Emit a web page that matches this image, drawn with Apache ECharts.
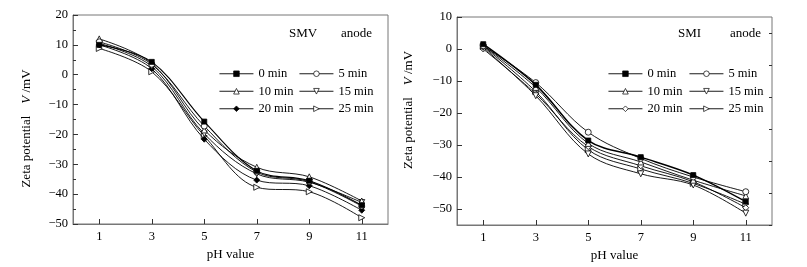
<!DOCTYPE html>
<html>
<head>
<meta charset="utf-8">
<script src="https://cdn.jsdelivr.net/npm/echarts@6/dist/echarts.min.js"></script>
<style>
  html, body { margin: 0; padding: 0; background: #fff; }
  #main { width: 807px; height: 267px; }
</style>
</head>
<body>
<div id="main"></div>
<script>
// pH values on the x axis
var phValues = [1, 3, 5, 7, 9, 11];
var timeNames = ['0 min', '5 min', '10 min', '15 min', '20 min', '25 min'];

// SMV anode, zeta potential (mV)
var smv0 = [10, 4.3, -15.7, -32.2, -35.5, -43.7];
var smv5 = [11, 3.5, -17.2, -32.6, -35.8, -44.0];
var smv10 = [12, 3.8, -18.5, -31.0, -34.2, -42.3];
var smv15 = [10.5, 2.8, -19.8, -33.2, -36.0, -42.8];
var smv20 = [10, 2.0, -21.6, -35.3, -37.2, -45.4];
var smv25 = [8.8, 1.0, -20.5, -37.7, -39.2, -47.9];

// SMI anode, zeta potential (mV)
var smi0 = [1.5, -11.2, -28.6, -33.8, -39.4, -47.7];
var smi5 = [1.0, -10.5, -26.0, -34.2, -40.0, -44.6];
var smi10 = [1.0, -12.0, -29.5, -35.3, -41.0, -45.9];
var smi15 = [0.5, -14.6, -32.8, -39.0, -42.5, -51.3];
var smi20 = [0.0, -14.0, -30.5, -36.5, -41.5, -49.6];
var smi25 = [0.8, -13.3, -31.5, -37.5, -42.0, -48.5];

var smiTicks = [-50, -40, -30, -20, -10, 0, 10];
var smiMinor = [-55, -45, -35, -25, -15, -5, 5];

var FONT = 'Liberation Serif';
var AXIS_COLOR = '#777';

// marker look per time
var marks = [
    { symbol: 'rect', rotate: 0 },
    { symbol: 'circle', rotate: 0 },
    { symbol: 'triangle', rotate: 0 },
    { symbol: 'triangle', rotate: 180 },
    { symbol: 'diamond', rotate: 0 },
    { symbol: 'triangle', rotate: -90 }
];

function pairs(vals) {
    return phValues.map(function (p, i) { return [p, vals[i]]; });
}

function makeSeries(prefix, lists, idx, fills, widths) {
    return lists.map(function (vals, i) {
        var m = marks[i];
        return {
            name: prefix + timeNames[i],
            type: 'line',
            xAxisIndex: idx,
            yAxisIndex: idx === 0 ? 0 : 1,
            data: pairs(vals),
            smooth: 0.35,
            symbol: m.symbol,
            symbolRotate: m.rotate,
            symbolSize: m.symbol === 'rect' ? 5 : 6,
            itemStyle: { color: fills[i], borderColor: '#000', borderWidth: 0.8 },
            lineStyle: { color: '#000', width: widths[i] },
            emphasis: { disabled: true },
            z: 10 - i
        };
    });
}

var smvSeries = makeSeries('SMV ', [smv0, smv5, smv10, smv15, smv20, smv25], 0,
    ['#000', '#fff', '#fff', '#fff', '#000', '#fff'], [1.1, 0.9, 0.9, 0.9, 0.9, 0.9]);
var smiSeries = makeSeries('SMI ', [smi0, smi5, smi10, smi15, smi20, smi25], 1,
    ['#000', '#fff', '#fff', '#fff', '#fff', '#fff'], [1.5, 0.9, 0.9, 0.9, 0.9, 0.9]);

function xAxis(gridIndex) {
    return {
        type: 'value', gridIndex: gridIndex, min: 0, max: 12,
        name: 'pH value', nameLocation: 'middle', nameGap: 21,
        nameTextStyle: { fontFamily: FONT, fontSize: 13, color: '#000' },
        axisLine: { show: true, onZero: false, lineStyle: { color: AXIS_COLOR } },
        axisTick: { inside: true, length: 5, customValues: phValues, lineStyle: { color: '#333' } },
        axisLabel: { customValues: phValues, margin: 6, fontFamily: FONT, fontSize: 12.5, color: '#000' },
        splitLine: { show: false }
    };
}

function fmt(v) { return v < 0 ? '\u2212' + Math.abs(v) : String(v); }

function yName(pad) {
    return {
        name: '{n|Zeta potential}{i|V}{n| /mV}',
        nameLocation: 'middle', nameRotate: 90,
        nameTextStyle: {
            fontFamily: FONT, fontSize: 13, color: '#000', padding: pad,
            rich: {
                n: { fontFamily: FONT, fontSize: 13, color: '#000' },
                i: { fontFamily: FONT, fontSize: 13, color: '#000', fontStyle: 'italic', padding: [0, 0, 0, 12] }
            }
        }
    };
}

var yLeft = Object.assign({
    type: 'value', gridIndex: 0, min: -50, max: 20, interval: 10, nameGap: 40,
    axisLine: { show: true, onZero: false, lineStyle: { color: AXIS_COLOR } },
    axisTick: { inside: true, length: 5, lineStyle: { color: '#333' } },
    minorTick: { show: true, splitNumber: 2, length: 3, lineStyle: { color: '#333' } },
    axisLabel: { formatter: fmt, margin: 5, fontFamily: FONT, fontSize: 12.5, color: '#000' },
    splitLine: { show: false }, minorSplitLine: { show: false }
}, yName([0, 18, 0, 0]));

var yRight = Object.assign({
    type: 'value', gridIndex: 1, min: -55, max: 10, nameGap: 42,
    axisLine: { show: true, onZero: false, lineStyle: { color: AXIS_COLOR } },
    axisTick: { inside: true, length: 5, customValues: smiTicks, lineStyle: { color: '#333' } },
    axisLabel: { customValues: smiTicks, formatter: fmt, margin: 5, fontFamily: FONT, fontSize: 12.5, color: '#000' },
    splitLine: { show: false }
}, yName([0, 0, 0, 22]));

// extra axis only for the short minor ticks of the right panel
var yRightMinor = {
    type: 'value', gridIndex: 1, min: -55, max: 10,
    axisLine: { show: false, onZero: false },
    axisTick: { inside: true, length: 3, customValues: smiMinor, lineStyle: { color: '#333' } },
    axisLabel: { show: false },
    splitLine: { show: false }
};

function legend(prefix, names, left) {
    return {
        orient: 'vertical', left: left, top: 67,
        data: names.map(function (n) { return prefix + n; }),
        formatter: function (n) { return n.replace(prefix, ''); },
        itemWidth: 34, itemHeight: 7, itemGap: 4,
        lineStyle: { width: 0.9 },
        itemStyle: { borderWidth: 0.7 },
        selectedMode: false,
        textStyle: { fontFamily: FONT, fontSize: 12.5, color: '#000', lineHeight: 13.5 },
        padding: 0
    };
}

function label(text, x) {
    return {
        type: 'text', left: x, top: 27,
        style: { text: text, fontFamily: FONT, fontSize: 13, fill: '#000' }
    };
}

var myChart = echarts.init(document.getElementById('main'));
myChart.setOption({
    backgroundColor: '#fff',
    animation: false,
    grid: [
        { left: 73, top: 15, width: 315, height: 209, show: true, borderColor: AXIS_COLOR, borderWidth: 1 },
        { left: 457, top: 17, width: 315, height: 208, show: true, borderColor: AXIS_COLOR, borderWidth: 1 }
    ],
    xAxis: [xAxis(0), xAxis(1)],
    yAxis: [yLeft, yRight, yRightMinor],
    legend: [
        legend('SMV ', ['0 min', '10 min', '20 min'], 219),
        legend('SMV ', ['5 min', '15 min', '25 min'], 299),
        legend('SMI ', ['0 min', '10 min', '20 min'], 608),
        legend('SMI ', ['5 min', '15 min', '25 min'], 689)
    ],
    graphic: [
        label('SMV', 289), label('anode', 341),
        label('SMI', 678), label('anode', 730)
    ],
    series: smvSeries.concat(smiSeries)
});
</script>
</body>
</html>
